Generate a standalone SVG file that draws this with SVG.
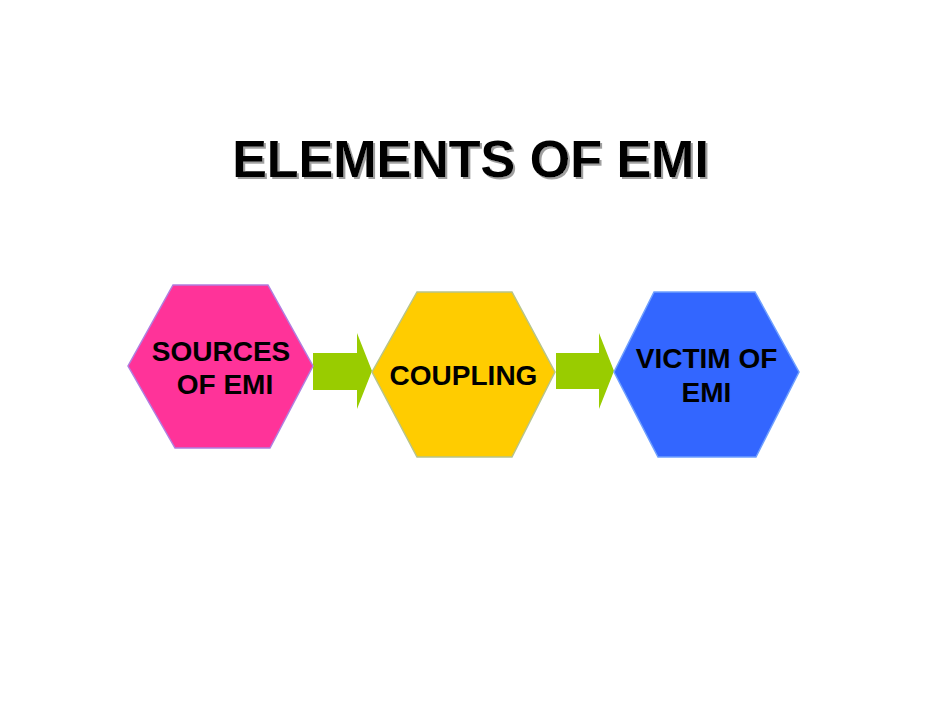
<svg xmlns="http://www.w3.org/2000/svg" width="942" height="728" viewBox="0 0 942 728">
<defs>
<filter id="shadow" x="-5%" y="-20%" width="110%" height="140%">
<feOffset in="SourceAlpha" dx="2" dy="2" result="off"/>
<feFlood flood-color="#a0a0a0"/>
<feComposite in2="off" operator="in" result="sh"/>
<feMerge><feMergeNode in="sh"/><feMergeNode in="SourceGraphic"/></feMerge>
</filter>
</defs>
<style>
.t{font-family:"Liberation Sans",Arial,sans-serif;font-weight:bold;fill:#000;text-anchor:middle}
.lbl{font-size:28px}
.arrow{fill:#99CC00}
</style>
<rect width="942" height="728" fill="#fff"/>
<g id="title">
<text class="t" x="470.5" y="177" font-size="52" filter="url(#shadow)">ELEMENTS OF EMI</text>
</g>
<g id="connectors">
<polygon class="arrow" points="313,353 357,353 357,333 372,371 357,409 357,390 313,390"/>
<polygon class="arrow" points="556,353 599,353 599,333 614,371 599,409 599,389 556,389"/>
</g>
<g id="sources">
<polygon points="173,285 268,285 313,366 270,448 175,448 128,366" fill="#FF3399" stroke="#B07FE0" stroke-width="1.5"/>
<text class="t lbl" x="221" y="361">SOURCES</text>
<text class="t lbl" x="225" y="394">OF EMI</text>
</g>
<g id="coupling">
<polygon points="417,292 512,292 555,372 512,457 417,457 372,372" fill="#FFCC00" stroke="#B8C48A" stroke-width="1.5"/>
<text class="t lbl" x="463.5" y="385">COUPLING</text>
</g>
<g id="victim">
<polygon points="654,292 755,292 799,372 756,457 658,457 614,372" fill="#3366FF" stroke="#6FA0FF" stroke-width="1.5"/>
<text class="t lbl" x="706.5" y="368">VICTIM OF</text>
<text class="t lbl" x="706.5" y="402">EMI</text>
</g>
</svg>
